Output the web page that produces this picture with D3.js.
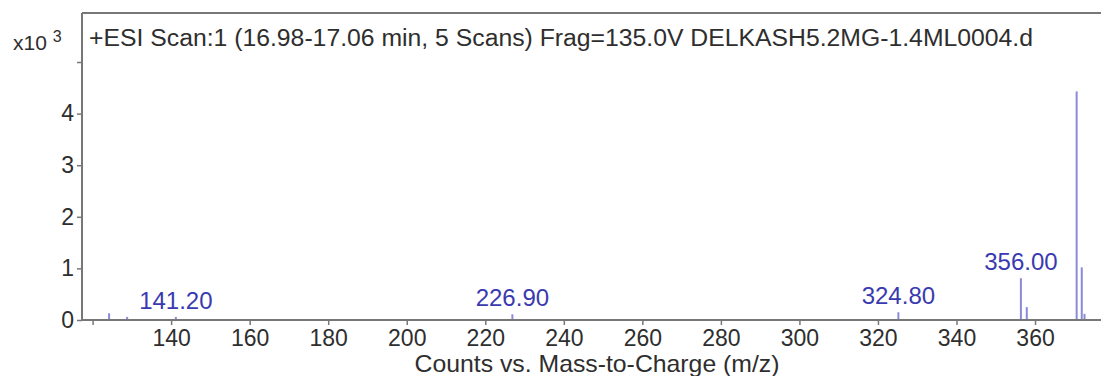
<!DOCTYPE html>
<html lang="en">
<head>
<meta charset="utf-8">
<script src="https://d3js.org/d3.v7.min.js"></script>
<style>
  body { margin: 0; background: #fff; }
  svg text { font-family: "Liberation Sans", Arial, sans-serif; }
</style>
</head>
<body>
<div class="chartDiv"></div>
<script>
// spectrum peaks (m/z, counts x10^3)
var peakMz     = [124.2, 128.8, 141.2, 226.9, 325.2, 356.4, 357.9, 370.6, 371.9, 372.6];
var peakCounts = [0.13, 0.06, 0.06, 0.11, 0.15, 0.81, 0.25, 4.43, 1.02, 0.12];

// annotated peaks
var labelMz    = [141.2, 226.9, 325.2, 356.4];
var labelCount = [0.06, 0.11, 0.15, 0.81];
var labelText  = ["141.20", "226.90", "324.80", "356.00"];

var xTicks = [120, 140, 160, 180, 200, 220, 240, 260, 280, 300, 320, 340, 360];
var yTicks = [0, 1, 2, 3, 4, 5];

var titleText = "+ESI Scan:1 (16.98-17.06 min, 5 Scans) Frag=135.0V DELKASH5.2MG-1.4ML0004.d";

var w = 1101, h = 376;
var plotLeft = 82, plotRight = 1101, plotTop = 13, plotBottom = 320;

var svg = d3.select(".chartDiv").append("svg")
  .attr("width", w).attr("height", h);

var x = d3.scaleLinear().domain([117.3, 376.8]).range([plotLeft, plotRight]);
var y = d3.scaleLinear().domain([0, 5.95]).range([plotBottom, plotTop]);

var axisColor = "#777";
var textColor = "#2e2e2e";
var peakColor = "#8a8ad8";
var labelColor = "#3a3ab0";

// top frame line
svg.append("line")
  .attr("x1", plotLeft).attr("x2", plotRight)
  .attr("y1", plotTop).attr("y2", plotTop)
  .attr("stroke", axisColor).attr("stroke-width", 2);

// peaks
svg.selectAll("line.peak")
  .data(peakMz)
  .enter().append("line")
  .attr("class", "peak")
  .attr("x1", function(d) { return x(d); })
  .attr("x2", function(d) { return x(d); })
  .attr("y1", y(0))
  .attr("y2", function(d, i) { return y(peakCounts[i]); })
  .attr("stroke", peakColor)
  .attr("stroke-width", 2);

// x axis
var xAxis = d3.axisBottom(x)
  .tickValues(xTicks)
  .tickSize(5)
  .tickPadding(5)
  .tickFormat(function(d) { return d < 140 ? "" : d; });

var gx = svg.append("g")
  .attr("transform", "translate(0," + plotBottom + ")")
  .call(xAxis);
gx.select(".domain").attr("stroke", axisColor).attr("stroke-width", 2)
  .attr("d", "M" + plotLeft + ",0H" + plotRight);
gx.selectAll(".tick line").attr("stroke", axisColor).attr("stroke-width", 1.5);
gx.selectAll(".tick text")
  .attr("fill", textColor)
  .style("font-size", "23px");

// y axis
var yAxis = d3.axisLeft(y)
  .tickValues(yTicks)
  .tickSize(5)
  .tickPadding(3)
  .tickFormat(function(d) { return d === 5 ? "" : d; });

var gy = svg.append("g")
  .attr("transform", "translate(" + plotLeft + ",0)")
  .call(yAxis);
gy.select(".domain").attr("stroke", axisColor).attr("stroke-width", 2)
  .attr("d", "M0," + plotTop + "V" + plotBottom);
gy.selectAll(".tick line").attr("stroke", axisColor).attr("stroke-width", 1.5);
gy.selectAll(".tick text")
  .attr("fill", textColor)
  .style("font-size", "23px");

// multiplier label
var mult = svg.append("text")
  .attr("x", 13).attr("y", 50)
  .attr("fill", textColor)
  .style("font-size", "21px");
mult.append("tspan").text("x10 ");
mult.append("tspan").attr("dy", -8).style("font-size", "16px").text("3");

// title inside frame
svg.append("text")
  .attr("x", 89).attr("y", 46)
  .attr("fill", textColor)
  .attr("textLength", 944)
  .attr("lengthAdjust", "spacingAndGlyphs")
  .style("font-size", "23px")
  .text(titleText);

// peak labels
svg.selectAll("text.plabel")
  .data(labelMz)
  .enter().append("text")
  .attr("class", "plabel")
  .attr("x", function(d) { return x(d); })
  .attr("y", function(d, i) { return y(labelCount[i]) - 8; })
  .attr("text-anchor", "middle")
  .attr("fill", labelColor)
  .style("font-size", "24px")
  .text(function(d, i) { return labelText[i]; });

// x axis title
svg.append("text")
  .attr("x", 597).attr("y", 372)
  .attr("text-anchor", "middle")
  .attr("fill", textColor)
  .attr("textLength", 365)
  .attr("lengthAdjust", "spacingAndGlyphs")
  .style("font-size", "24px")
  .text("Counts vs. Mass-to-Charge (m/z)");
</script>
</body>
</html>
